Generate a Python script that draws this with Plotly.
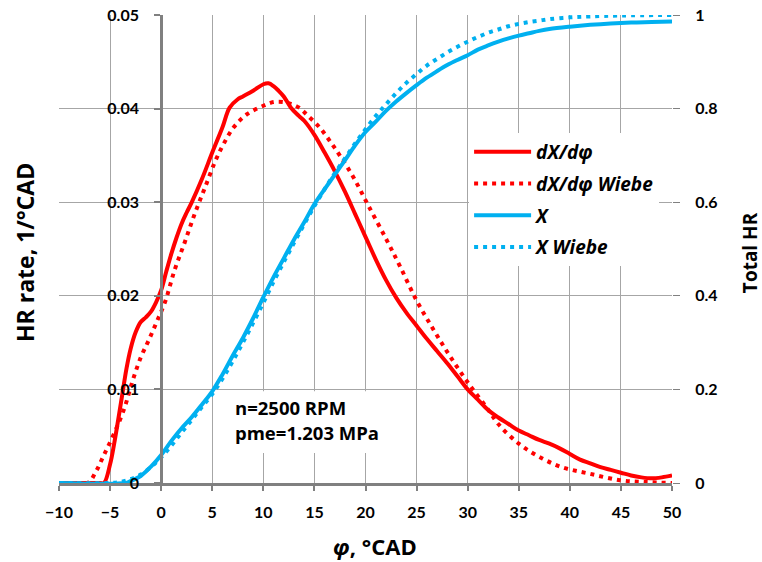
import plotly.graph_objects as go

# ---- data ----
x_rate = [-10, -6, -5.6, -5, -4.6, -4.2, -3.8, -3.4, -3.0, -2.5, -2.0, -1.5, -1.0, -0.5, 0,
          0.5, 1, 1.5, 2, 2.5, 3, 4, 5, 6, 6.7, 7.5, 8, 9, 10, 10.5, 11, 11.5, 12, 12.7,
          13.5, 14, 15, 16, 17, 18, 19, 20, 21, 22, 23, 24, 25, 26, 27, 28, 29, 30, 31,
          32, 33, 34, 35, 36, 37, 38, 39, 40, 41, 42, 43, 44, 45, 46, 47, 48, 49, 50]
rate = [0, 0, 0, 0.0020, 0.0042, 0.0068, 0.0095, 0.0122, 0.0143, 0.0161, 0.0172, 0.0177,
        0.0183, 0.0193, 0.0206, 0.0226, 0.0245, 0.0262, 0.0277, 0.0289, 0.0300, 0.0325,
        0.0353, 0.0380, 0.0401, 0.0410, 0.0413, 0.0419, 0.0426, 0.0427, 0.0424, 0.0419,
        0.0413, 0.0401, 0.0392, 0.0387, 0.0372, 0.0353, 0.0333, 0.0311, 0.0287, 0.0263,
        0.0239, 0.0217, 0.0198, 0.0182, 0.0168, 0.0154, 0.0141, 0.0128, 0.0114, 0.0100,
        0.0089, 0.0078, 0.0070, 0.0063, 0.0056, 0.0051, 0.0046, 0.0042, 0.0037, 0.0031,
        0.0025, 0.0021, 0.0017, 0.0014, 0.0011, 0.0008, 0.0006, 0.0005, 0.0006, 0.0008]

x_rate_w = [-10, -7.2, -6.4, -5.6, -4.6, -3.6, -2.8, -2.0, -1.2, -0.4, 0.4, 1.3, 2.3, 3.3,
            4.3, 5.3, 6.1, 7.1, 8.4, 10, 11, 12, 12.7, 13.5, 14.3, 15.5, 16.6, 17.6, 18.8,
            20.2, 22.1, 23.4, 25, 26.7, 28.3, 30.1, 31.9, 33, 35, 37, 39.2, 41.9, 44.9,
            47.5, 50]
rate_w = [0, 0, 0.0012, 0.0030, 0.0053, 0.0080, 0.0109, 0.0134, 0.0153, 0.0173, 0.0194,
          0.0227, 0.0257, 0.0288, 0.0316, 0.0344, 0.0362, 0.0380, 0.0394, 0.0403, 0.0407,
          0.0407, 0.0405, 0.0401, 0.0393, 0.0380, 0.0364, 0.0348, 0.0327, 0.0298, 0.0259,
          0.0231, 0.0195, 0.0163, 0.0135, 0.0106, 0.0080, 0.0063, 0.0042, 0.0028, 0.0017,
          0.0010, 0.0003, 0.0001, 0.0]

x_total = [-10, -3.5, -3, -2, -1, 0, 1, 2, 3, 4, 5, 6, 7, 8, 9, 10, 11, 12, 13, 14, 15,
           16, 17, 18, 19, 20, 21, 22, 23, 24, 25, 26, 27, 28, 29, 30, 31, 32, 33, 34,
           35, 36, 37, 38, 40, 42, 44, 46, 48, 50]
total = [0, 0, 0.004, 0.015, 0.035, 0.060, 0.090, 0.117, 0.141, 0.168, 0.196, 0.232,
         0.272, 0.310, 0.352, 0.397, 0.440, 0.480, 0.520, 0.557, 0.596, 0.628, 0.659,
         0.690, 0.722, 0.750, 0.772, 0.795, 0.815, 0.833, 0.850, 0.866, 0.880, 0.893,
         0.904, 0.914, 0.926, 0.935, 0.943, 0.950, 0.956, 0.961, 0.966, 0.970, 0.975,
         0.979, 0.982, 0.984, 0.985, 0.986]

x_total_w = [-10, -5, -4, -3, -2, -1, 0, 1, 2, 3, 4, 5, 6, 7, 8, 9, 10, 11, 12, 13, 14,
             15, 16, 17, 18, 19, 20, 21, 22, 23, 24, 25, 26, 27, 28, 29, 30, 31, 32, 33,
             34, 35, 36, 37, 38, 40, 42, 45, 50]
total_w = [0, 0, 0.002, 0.008, 0.018, 0.034, 0.055, 0.080, 0.108, 0.135, 0.163, 0.190,
           0.223, 0.260, 0.300, 0.342, 0.385, 0.430, 0.472, 0.513, 0.553, 0.592, 0.628,
           0.662, 0.694, 0.726, 0.756, 0.784, 0.809, 0.833, 0.855, 0.874, 0.892, 0.906,
           0.920, 0.932, 0.943, 0.953, 0.962, 0.969, 0.976, 0.981, 0.985, 0.988, 0.991,
           0.995, 0.997, 0.999, 1.0]

names = ["dX/dφ", "dX/dφ Wiebe", "X", "X Wiebe"]
note_lines = ["n=2500 RPM", "pme=1.203 MPa"]

RED = "#FF0000"
BLUE = "#00B0F0"
GRID = "#A6A6A6"
AXIS = "#808080"
NUMFONT = "Lato"
TXTFONT = "Open Sans"
DOT = "4px,5px"

fig = go.Figure()
fig.add_trace(go.Scatter(x=x_rate, y=rate, name=names[0], mode="lines", line_shape="spline",
                         line=dict(color=RED, width=4), legendgroup="a"))
fig.add_trace(go.Scatter(x=x_rate_w, y=rate_w, name=names[1], mode="lines", line_shape="spline",
                         line=dict(color=RED, width=4, dash=DOT), legendgroup="b"))
fig.add_trace(go.Scatter(x=x_total, y=total, name=names[2], mode="lines", line_shape="spline",
                         line=dict(color=BLUE, width=4), yaxis="y2", legendgroup="c"))
fig.add_trace(go.Scatter(x=x_total_w, y=total_w, name=names[3], mode="lines", line_shape="spline",
                         line=dict(color=BLUE, width=4, dash=DOT), yaxis="y2", legendgroup="d"))

tickfont = dict(family=NUMFONT, size=16, color="black", weight="bold")

fig.update_layout(
    width=762, height=562,
    margin=dict(l=59, r=90, t=15, b=79, autoexpand=False),
    paper_bgcolor="white", plot_bgcolor="white",
    font=dict(family=NUMFONT, size=16, color="black"),
    xaxis=dict(range=[-10, 50], tick0=0, dtick=5, showgrid=True, gridcolor=GRID, gridwidth=1,
               zeroline=False, showline=True, linecolor=AXIS, linewidth=3, automargin=False,
               ticks="outside", ticklen=5, tickwidth=2, tickcolor=AXIS,
               tickfont=tickfont, ticklabelstandoff=8),
    yaxis=dict(range=[0, 0.05], tick0=0, dtick=0.01, anchor="free", position=1/6,
               showgrid=True, gridcolor=GRID, gridwidth=1, zeroline=False, automargin=False,
               showline=True, linecolor=AXIS, linewidth=3,
               ticks="outside", ticklen=6, tickwidth=2, tickcolor=AXIS,
               tickfont=tickfont, ticklabelstandoff=12),
    yaxis2=dict(range=[0, 1], tick0=0, dtick=0.2, overlaying="y", side="right", anchor="x",
                showgrid=False, zeroline=False, showline=False, automargin=False,
                ticks="outside", ticklen=7, tickwidth=1, tickcolor=AXIS,
                tickfont=tickfont, ticklabelstandoff=12),
    legend=dict(x=0.669, y=0.748, xanchor="left", yanchor="top", bgcolor="white",
                borderwidth=0, itemwidth=57, tracegroupgap=4,
                font=dict(family=TXTFONT, size=19, color="black", weight="bold", style="italic")),
    showlegend=True,
)

# white box behind the note (covers gridlines, under the curves)
fig.add_shape(type="rect", xref="x", yref="y", x0=6.2, x1=21.9, y0=0.0032, y1=0.0098,
              fillcolor="white", line=dict(width=0), layer="between")
fig.add_annotation(text=note_lines[0], xref="x", yref="y", x=7.0, y=0.0081,
                   xanchor="left", yanchor="middle", showarrow=False,
                   font=dict(family=TXTFONT, size=18.5, color="black", weight="bold"))
fig.add_annotation(text=note_lines[1], xref="x", yref="y", x=7.0, y=0.0054,
                   xanchor="left", yanchor="middle", showarrow=False,
                   font=dict(family=TXTFONT, size=18.5, color="black", weight="bold"))

fig.add_annotation(text="HR rate, 1/°CAD", xref="paper", yref="paper", x=-0.0543, y=0.493,
                   textangle=-90, showarrow=False,
                   font=dict(family=TXTFONT, size=23, color="black", weight="bold"),
                   xanchor="center", yanchor="middle")
fig.add_annotation(text="Total HR", xref="paper", yref="paper", x=1.127, y=0.493,
                   textangle=-90, showarrow=False,
                   font=dict(family=TXTFONT, size=19, color="black", weight="bold"),
                   xanchor="center", yanchor="middle")
fig.add_annotation(text="<i>φ</i>, °CAD", xref="paper", yref="paper", x=0.515, y=-0.1353,
                   showarrow=False,
                   font=dict(family=TXTFONT, size=22, color="black", weight="bold"),
                   xanchor="center", yanchor="middle")

fig.write_html("out.html", config={"displayModeBar": False},
               post_script="document.body.style.margin='0';")
